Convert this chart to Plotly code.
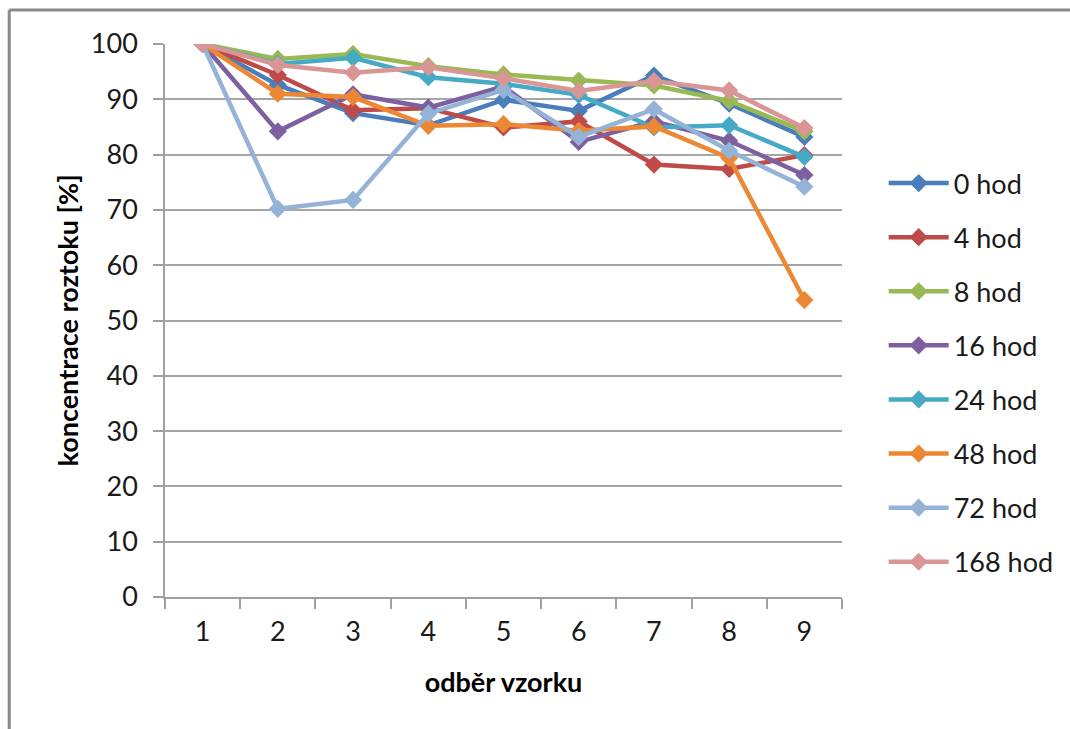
import plotly.graph_objects as go

samples = ["1", "2", "3", "4", "5", "6", "7", "8", "9"]
series_names = ["0 hod", "4 hod", "8 hod", "16 hod", "24 hod", "48 hod", "72 hod", "168 hod"]

v0 = [100, 92.6, 87.5, 85.3, 89.9, 87.9, 94.3, 89.2, 83.2]
v4 = [100, 94.4, 88.0, 88.4, 84.9, 86.0, 78.2, 77.4, 79.9]
v8 = [100, 97.3, 98.2, 96.0, 94.5, 93.4, 92.5, 89.7, 84.2]
v16 = [100, 84.2, 90.9, 88.5, 92.3, 82.3, 86.0, 82.5, 76.3]
v24 = [100, 96.4, 97.5, 94.0, 92.8, 90.8, 84.9, 85.3, 79.6]
v48 = [100, 91.0, 90.4, 85.2, 85.5, 84.3, 85.1, 79.4, 53.7]
v72 = [100, 70.2, 71.8, 87.4, 91.7, 83.2, 88.2, 80.7, 74.2]
v168 = [100, 96.2, 94.8, 95.8, 93.8, 91.5, 93.3, 91.6, 84.8]

values = [v0, v4, v8, v16, v24, v48, v72, v168]
colors = ["#4A7EBB", "#BE4B48", "#98B954", "#7D60A0", "#46AAC5", "#EC8834", "#95B3D7", "#D99694"]

FONT = "Lato, 'Open Sans', sans-serif"
FS = 27

fig = go.Figure()
for i, (name, vals, col) in enumerate(zip(series_names, values, colors)):
    fig.add_trace(go.Scatter(
        x=samples, y=vals, name=name, mode="lines+markers",
        line=dict(color=col, width=4.5),
        marker=dict(symbol="diamond", size=14, color=col),
        legendgroup="g%d" % i,
    ))

fig.update_layout(
    width=1070, height=729,
    margin=dict(l=165, r=227, t=44, b=132),
    paper_bgcolor="white", plot_bgcolor="white",
    font=dict(family=FONT, size=FS, color="#1a1a1a"),
    showlegend=True,
    legend=dict(
        x=1.060, xanchor="left", y=0.792, yanchor="top",
        traceorder="grouped", tracegroupgap=16,
        font=dict(family=FONT, size=FS, color="#1a1a1a"),
        bgcolor="rgba(0,0,0,0)",
        itemwidth=60,
    ),
    shapes=[
        dict(type="line", xref="paper", yref="paper",
             x0=(9 - 165) / 678, x1=(1075 - 165) / 678,
             y0=(597 - 10) / 553, y1=(597 - 10) / 553,
             line=dict(color="#8a8a8a", width=3)),
        dict(type="line", xref="paper", yref="paper",
             x0=(9 - 165) / 678, x1=(9 - 165) / 678,
             y0=(597 - 10) / 553, y1=(597 - 740) / 553,
             line=dict(color="#8a8a8a", width=3)),
    ],
)

fig.update_xaxes(
    type="category", range=[-0.5, 8.5],
    showgrid=False, showline=True, linecolor="#a0a0a0", linewidth=1.5,
    ticks="outside", ticklen=10, tickcolor="#a0a0a0", tickwidth=1.5,
    tickson="boundaries", ticklabelstandoff=10,
    tickfont=dict(family=FONT, size=FS, color="#1a1a1a"),
    title=dict(text="<b>odběr vzorku</b>", font=dict(family=FONT, size=FS, color="#000"), standoff=27),
    zeroline=False,
)
fig.update_yaxes(
    range=[0, 100], dtick=10, tick0=0,
    showgrid=True, gridcolor="#a6a6a6", gridwidth=1.5,
    showline=True, linecolor="#a0a0a0", linewidth=1.5,
    ticks="outside", ticklen=10, tickcolor="#a0a0a0", tickwidth=1.5,
    ticklabelstandoff=10,
    tickfont=dict(family=FONT, size=FS, color="#1a1a1a"),
    title=dict(text="<b>koncentrace roztoku [%]</b>", font=dict(family=FONT, size=FS, color="#000"), standoff=4),
    zeroline=False,
)

fig.write_html("out.html")
